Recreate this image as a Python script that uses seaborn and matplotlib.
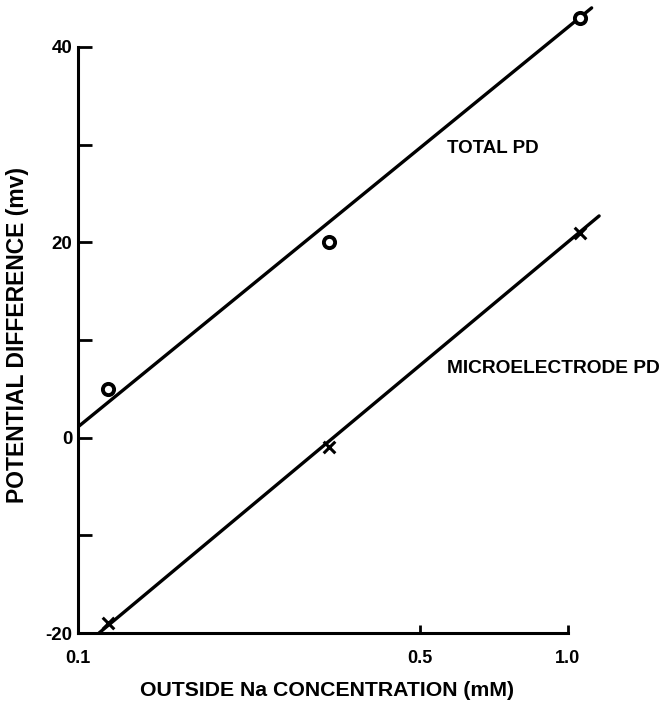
import matplotlib
matplotlib.use("Agg")
import matplotlib.pyplot as plt
import matplotlib.ticker as mticker
import seaborn as sns
import pandas as pd

# --- data ---
conc_total = [0.115, 0.325, 1.06]
pd_total = [5, 20, 43]
conc_micro = [0.115, 0.325, 1.06]
pd_micro = [-19, -1, 21]

# fitted straight lines (end points)
fit_total_x = [0.1, 1.12]
fit_total_y = [1.1, 44.0]
fit_micro_x = [0.1104, 1.16]
fit_micro_y = [-20.0, 22.7]

y_ticks = [-20, -10, 0, 10, 20, 30, 40]
y_tick_labels = ["-20", "", "0", "", "20", "", "40"]
x_ticks = [0.1, 0.5, 1.0]
x_tick_labels = ["0.1", "0.5", "1.0"]

sns.set_style("ticks")
plt.rcParams['font.family'] = ['Liberation Sans', 'DejaVu Sans']
plt.rcParams['text.color'] = 'black'
plt.rcParams['xtick.color'] = 'black'
plt.rcParams['ytick.color'] = 'black'
plt.rcParams['axes.edgecolor'] = 'black'

fig = plt.figure(figsize=(6.7, 7.18), dpi=100)
ax = fig.add_axes([78 / 670, 85 / 718, 537 / 670, 630 / 718])

df_tot = pd.DataFrame({"x": conc_total, "y": pd_total})
df_mic = pd.DataFrame({"x": conc_micro, "y": pd_micro})
df_ft = pd.DataFrame({"x": fit_total_x, "y": fit_total_y})
df_fm = pd.DataFrame({"x": fit_micro_x, "y": fit_micro_y})

sns.lineplot(data=df_ft, x="x", y="y", ax=ax, color="black", lw=2.4, sort=False)
sns.lineplot(data=df_fm, x="x", y="y", ax=ax, color="black", lw=2.4, sort=False)
sns.scatterplot(data=df_tot, x="x", y="y", ax=ax, marker="o", s=65,
                facecolor="white", edgecolor="black", linewidth=2.8, zorder=5)
sns.scatterplot(data=df_mic, x="x", y="y", ax=ax, marker="x", s=70,
                color="black", linewidth=2.2, zorder=5)

ax.set_xscale("log")
ax.set_xlim(0.1, 1.25)
ax.set_ylim(-20, 44.5)

ax.spines["top"].set_visible(False)
ax.spines["right"].set_visible(False)
ax.spines["left"].set_bounds(-20, 40)
ax.spines["bottom"].set_bounds(0.1, 1.0)
ax.spines["left"].set_linewidth(2.2)
ax.spines["bottom"].set_linewidth(2.2)

ax.set_yticks(y_ticks)
ax.set_yticklabels(y_tick_labels)
ax.xaxis.set_major_locator(mticker.FixedLocator(x_ticks))
ax.xaxis.set_minor_locator(mticker.NullLocator())
ax.set_xticklabels(x_tick_labels)

ax.tick_params(axis="y", direction="in", length=10, width=2, pad=4,
               labelsize=13.5)
ax.tick_params(axis="x", direction="in", length=6, width=2, pad=12,
               labelsize=13)
for lab in ax.get_xticklabels() + ax.get_yticklabels():
    lab.set_fontweight("bold")

ax.set_xlabel("")
ax.set_ylabel("")
fig.text(327 / 670, 1 - 690 / 718, "OUTSIDE Na CONCENTRATION (mM)",
         ha="center", va="center", fontsize=15.3, fontweight="bold")
fig.text(18 / 670, 1 - 335 / 718, "POTENTIAL DIFFERENCE (mv)",
         ha="center", va="center", rotation=90, fontsize=16.5,
         fontweight="bold")

ax.text(0.566, 29.6, "TOTAL PD", ha="left", va="center", fontsize=13.5,
        fontweight="bold")
ax.text(0.566, 7.1, "MICROELECTRODE PD", ha="left", va="center",
        fontsize=13.8, fontweight="bold")

fig.savefig("out.png", dpi=100)
